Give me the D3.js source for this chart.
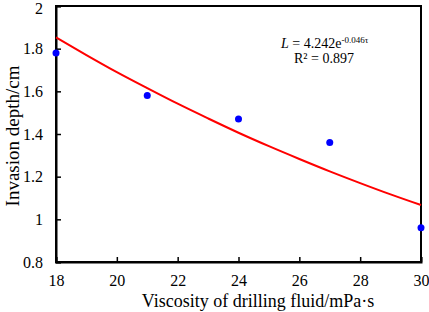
<!DOCTYPE html>
<html><head><meta charset="utf-8">
<script src="https://cdn.jsdelivr.net/npm/d3@7"></script>
<style>body{margin:0;background:#fff}svg{display:block}</style>
</head><body><svg id="c" width="429" height="312"></svg>
<script>
// Observed data
const viscosity = [18, 21, 24, 27, 30];
const depth = [1.78, 1.58, 1.47, 1.36, 0.96];
// Trend curve values
const fitX = [18,19,20,21,22,23,24,25,26,27,28,29,30];
const fitY = [1.853,1.770,1.690,1.615,1.542,1.473,1.406,1.343,1.283,1.225,1.170,1.117,1.067];
const xTicks = [18,20,22,24,26,28,30];
const yTicks = [0.8,1,1.2,1.4,1.6,1.8,2];

const FONT = "Liberation Serif, Times New Roman, serif";
const svg = d3.select("#c").attr("font-family", FONT);
const m = {l:56, r:421, t:6, b:262};
const x = d3.scaleLinear().domain([18,30]).range([m.l, m.r]);
const y = d3.scaleLinear().domain([0.8,2]).range([m.b, m.t]);

// frame
svg.append("rect").attr("x",m.l).attr("y",m.t).attr("width",m.r-m.l).attr("height",m.b-m.t)
  .attr("fill","none").attr("stroke","#000").attr("stroke-width",2);

const xa = svg.append("g").attr("transform",`translate(0,${m.b})`)
  .call(d3.axisBottom(x).tickValues(xTicks).tickSize(-5).tickPadding(13).tickFormat(d3.format("d")));
const ya = svg.append("g").attr("transform",`translate(${m.l},0)`)
  .call(d3.axisLeft(y).tickValues(yTicks).tickSize(-5).tickPadding(13).tickFormat(d=>String(d)));
[xa,ya].forEach(a=>{
  a.attr("font-family", FONT).attr("font-size", 16);
  a.select(".domain").attr("stroke","#000").attr("stroke-width",2);
  a.selectAll(".tick line").attr("stroke","#000").attr("stroke-width",1.5);
  a.selectAll(".tick text").attr("fill","#000");
});
ya.selectAll(".tick text").filter(d=>d===2).attr("dy","0.45em");

// fit curve
svg.append("path").datum(fitX.map((v,i)=>[v,fitY[i]]))
  .attr("d", d3.line().x(d=>x(d[0])).y(d=>y(d[1])).curve(d3.curveMonotoneX))
  .attr("fill","none").attr("stroke","#ff0000").attr("stroke-width",2);

// points
svg.selectAll("circle.pt").data(viscosity).join("circle").attr("class","pt")
  .attr("cx",d=>x(d)).attr("cy",(d,i)=>y(depth[i])).attr("r",3.5).attr("fill","#0000ff");

// axis titles
svg.append("text").attr("x",258).attr("y",307).attr("text-anchor","middle")
  .attr("font-size",18).text("Viscosity of drilling fluid/mPa·s");
svg.append("text").attr("transform",`translate(19,136) rotate(-90)`).attr("text-anchor","middle")
  .attr("font-size",19).text("Invasion depth/cm");

// equation
const eq = svg.append("text").attr("x",281).attr("y",48).attr("font-size",14);
eq.append("tspan").attr("font-style","italic").text("L");
eq.append("tspan").text(" = 4.242e");
eq.append("tspan").attr("dy",-5).attr("font-size",9).text("-0.046τ");
svg.append("text").attr("x",294).attr("y",63).attr("font-size",14).text("R² = 0.897");
</script></body></html>
